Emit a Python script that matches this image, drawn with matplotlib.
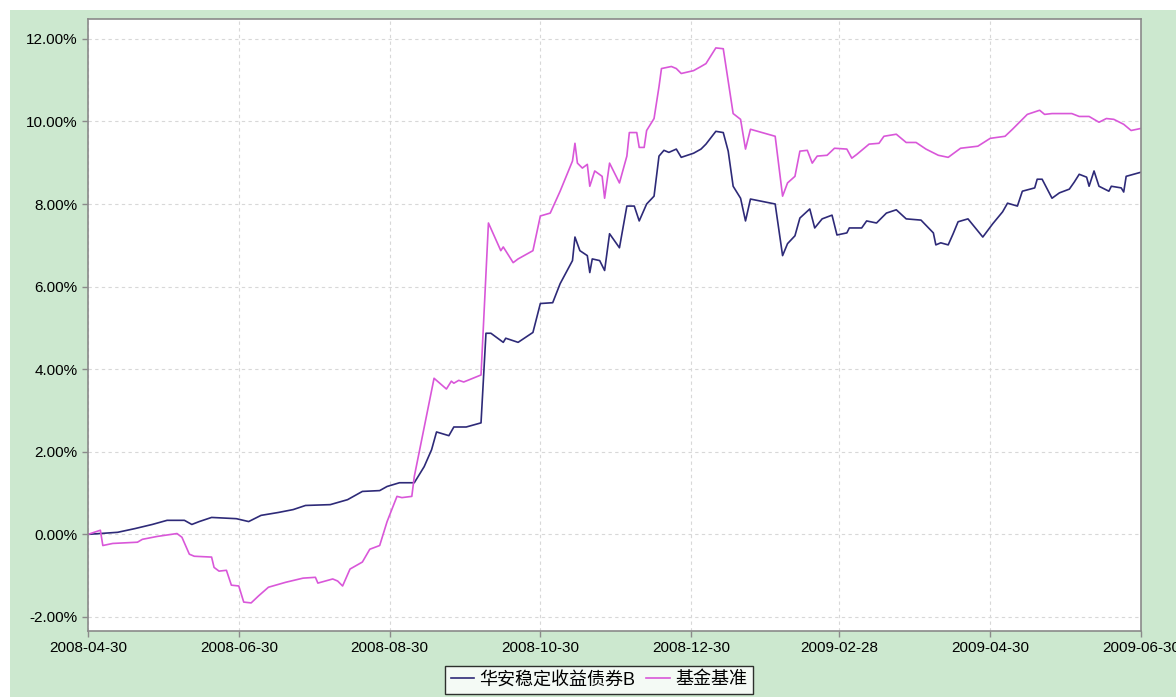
import datetime as dt

import matplotlib
matplotlib.use("Agg")
import matplotlib.pyplot as plt
import matplotlib.dates as mdates
import numpy as np

plt.rcParams["font.family"] = ["Liberation Sans", "Noto Sans CJK SC", "DejaVu Sans"]

START = dt.date(2008, 4, 30)

# fund NAV growth (days since 2008-04-30, %)
fund_days = [0, 12, 19, 26, 32, 39, 42, 45, 50, 60, 65, 70, 77, 83, 88, 98, 105, 111, 118,
             121, 126, 132, 136, 139, 141, 146, 148, 153, 159, 161, 163, 168, 169, 174, 180,
             183, 188, 191, 196, 197, 199, 202, 203, 204, 207, 209, 211, 215, 218, 221, 223,
             226, 229, 231, 233, 235, 238, 240, 245, 248, 250, 254, 257, 259, 261, 264, 266,
             268, 278, 281, 283, 286, 288, 292, 294, 297, 301, 303, 307, 308, 313, 315, 319,
             323, 327, 331, 337, 342, 343, 345, 348, 350, 352, 356, 362, 366, 370, 372, 376,
             378, 383, 384, 386, 390, 393, 397, 399, 401, 404, 405, 407, 409, 413, 414, 418,
             419, 420, 426]
fund_vals = [0.00, 0.05, 0.14, 0.24, 0.34, 0.34, 0.24, 0.31, 0.41, 0.38, 0.31, 0.46, 0.53,
             0.60, 0.70, 0.72, 0.84, 1.04, 1.06, 1.16, 1.25, 1.25, 1.64, 2.05, 2.48, 2.39,
             2.60, 2.60, 2.70, 4.87, 4.87, 4.65, 4.75, 4.65, 4.89, 5.59, 5.61, 6.07, 6.63,
             7.20, 6.87, 6.75, 6.34, 6.67, 6.63, 6.39, 7.28, 6.94, 7.95, 7.95, 7.59, 8.00,
             8.19, 9.16, 9.30, 9.25, 9.33, 9.13, 9.23, 9.33, 9.45, 9.76, 9.73, 9.28, 8.43,
             8.14, 7.59, 8.12, 8.00, 6.75, 7.04, 7.23, 7.66, 7.88, 7.42, 7.64, 7.73, 7.25,
             7.30, 7.42, 7.42, 7.59, 7.54, 7.78, 7.86, 7.64, 7.61, 7.30, 7.01, 7.06, 7.01,
             7.28, 7.57, 7.64, 7.20, 7.52, 7.81, 8.02, 7.95, 8.31, 8.39, 8.60, 8.60, 8.14,
             8.27, 8.36, 8.53, 8.72, 8.65, 8.43, 8.80, 8.43, 8.31, 8.43, 8.39, 8.29, 8.67,
             8.77]

# benchmark growth (days since 2008-04-30, %)
bench_days = [0, 5, 6, 10, 20, 22, 28, 36, 38, 41, 43, 50, 51, 53, 56, 58, 61, 63, 66, 69,
              73, 80, 87, 92, 93, 99, 101, 103, 106, 111, 114, 118, 121, 125, 127, 131, 132,
              140, 145, 147, 148, 150, 152, 159, 162, 167, 168, 172, 174, 180, 183, 187, 191,
              196, 197, 198, 200, 202, 203, 205, 208, 209, 211, 215, 218, 219, 222, 223, 225,
              226, 229, 231, 232, 236, 238, 240, 245, 248, 250, 254, 257, 261, 264, 266, 268,
              278, 281, 283, 286, 288, 291, 293, 295, 299, 302, 307, 309, 311, 316, 320, 322,
              327, 331, 335, 339, 344, 348, 353, 360, 365, 371, 374, 380, 385, 387, 390, 398,
              401, 405, 409, 412, 415, 419, 422, 426]
bench_vals = [0.00, 0.10, -0.27, -0.22, -0.19, -0.12, -0.05, 0.02, -0.07, -0.48, -0.53,
              -0.55, -0.80, -0.89, -0.87, -1.23, -1.25, -1.64, -1.66, -1.49, -1.28, -1.16,
              -1.06, -1.04, -1.18, -1.08, -1.13, -1.25, -0.84, -0.67, -0.36, -0.27, 0.31,
              0.92, 0.89, 0.92, 1.40, 3.78, 3.52, 3.71, 3.66, 3.73, 3.69, 3.86, 7.54, 6.87,
              6.96, 6.58, 6.67, 6.87, 7.71, 7.78, 8.31, 9.04, 9.47, 8.99, 8.87, 8.96, 8.43,
              8.80, 8.67, 8.14, 8.99, 8.51, 9.16, 9.73, 9.73, 9.37, 9.37, 9.78, 10.07, 10.84,
              11.28, 11.33, 11.28, 11.16, 11.23, 11.33, 11.40, 11.78, 11.76, 10.19, 10.05,
              9.33, 9.81, 9.64, 8.19, 8.51, 8.67, 9.28, 9.30, 8.99, 9.16, 9.18, 9.35, 9.33,
              9.11, 9.20, 9.45, 9.47, 9.64, 9.69, 9.49, 9.49, 9.33, 9.18, 9.13, 9.35, 9.40,
              9.59, 9.64, 9.81, 10.17, 10.27, 10.17, 10.19, 10.19, 10.12, 10.12, 9.98, 10.07,
              10.05, 9.93, 9.78, 9.83]

tick_dates = ["2008-04-30", "2008-06-30", "2008-08-30", "2008-10-30", "2008-12-30",
              "2009-02-28", "2009-04-30", "2009-06-30"]
y_ticks = [-2, 0, 2, 4, 6, 8, 10, 12]
labels = ["华安稳定收益债券B", "基金基准"]

BG = "#cce8cf"


def to_dates(days):
    return [START + dt.timedelta(days=d) for d in days]


fig = plt.figure(figsize=(11.76, 6.97), dpi=100)
fig.patch.set_facecolor("white")
fig.patches.append(plt.Rectangle((10 / 1176, 0), 1, 1 - 10 / 697, transform=fig.transFigure,
                                 facecolor=BG, edgecolor="none", zorder=-10))
ax = fig.add_axes([88 / 1176, 1 - 631 / 697, (1141 - 88) / 1176, (631 - 19) / 697])
ax.set_facecolor("white")

ax.plot(to_dates(fund_days), fund_vals, color="#2e2a78", lw=1.2, label=labels[0])
ax.plot(to_dates(bench_days), bench_vals, color="#d957d9", lw=1.2, label=labels[1])

ticks = [dt.datetime.strptime(t, "%Y-%m-%d").date() for t in tick_dates]
ax.set_xticks(ticks)
ax.set_xticklabels(tick_dates)
ax.set_xlim(ticks[0], ticks[-1])
ax.set_yticks(y_ticks)
ax.set_yticklabels([f"{v:.2f}%" for v in y_ticks])
ax.set_ylim(-2.34, 12.48)

ax.grid(True, color="#d8d8d8", ls=(0, (3, 3)), lw=0.8)
for s in ax.spines.values():
    s.set_color("#8a8a8a")
    s.set_linewidth(1.2)
ax.tick_params(axis="both", colors="#8a8a8a", labelcolor="black", labelsize=11,
               length=4, width=1)

fig.legend(loc="upper center", bbox_to_anchor=(599 / 1176, 1 - 666 / 697), ncol=2,
           fontsize=13, frameon=True, fancybox=False, edgecolor="black",
           handlelength=1.3, handletextpad=0.3, columnspacing=0.6,
           borderpad=0.3, borderaxespad=0)

fig.savefig("out.png", dpi=100, facecolor=fig.get_facecolor())
